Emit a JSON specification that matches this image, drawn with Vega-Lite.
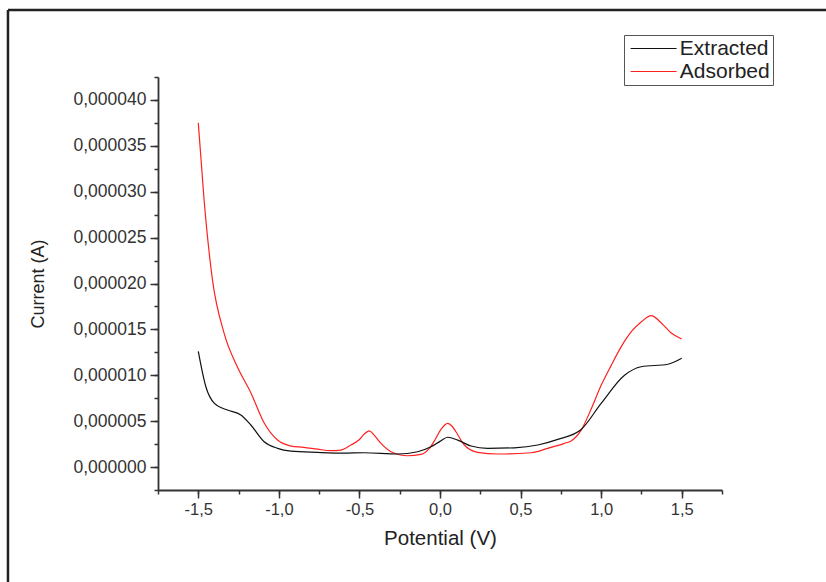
{
  "$schema": "https://vega.github.io/schema/vega-lite/v6.json",
  "autosize": "none",
  "width": 564,
  "height": 413,
  "padding": {"left": 158, "top": 77, "right": 104, "bottom": 92},
  "background": "white",
  "config": {
    "view": {"stroke": null},
    "font": "Liberation Sans"
  },
  "resolve": {"axis": {"x": "independent", "y": "independent"}},
  "datasets": {
    "curves": [
      {"V": -1.5, "I": 37.5e-6, "s": "Adsorbed"},
      {"V": -1.464, "I": 29.1e-6, "s": "Adsorbed"},
      {"V": -1.412, "I": 20.4e-6, "s": "Adsorbed"},
      {"V": -1.34, "I": 14.6e-6, "s": "Adsorbed"},
      {"V": -1.257, "I": 10.9e-6, "s": "Adsorbed"},
      {"V": -1.174, "I": 8.1e-6, "s": "Adsorbed"},
      {"V": -1.091, "I": 4.8e-6, "s": "Adsorbed"},
      {"V": -1.008, "I": 2.94e-6, "s": "Adsorbed"},
      {"V": -0.925, "I": 2.29e-6, "s": "Adsorbed"},
      {"V": -0.845, "I": 2.15e-6, "s": "Adsorbed"},
      {"V": -0.76, "I": 1.95e-6, "s": "Adsorbed"},
      {"V": -0.677, "I": 1.78e-6, "s": "Adsorbed"},
      {"V": -0.615, "I": 1.85e-6, "s": "Adsorbed"},
      {"V": -0.553, "I": 2.4e-6, "s": "Adsorbed"},
      {"V": -0.5, "I": 3.0e-6, "s": "Adsorbed"},
      {"V": -0.47, "I": 3.6e-6, "s": "Adsorbed"},
      {"V": -0.439, "I": 3.95e-6, "s": "Adsorbed"},
      {"V": -0.41, "I": 3.5e-6, "s": "Adsorbed"},
      {"V": -0.366, "I": 2.58e-6, "s": "Adsorbed"},
      {"V": -0.304, "I": 1.67e-6, "s": "Adsorbed"},
      {"V": -0.2, "I": 1.23e-6, "s": "Adsorbed"},
      {"V": -0.118, "I": 1.38e-6, "s": "Adsorbed"},
      {"V": -0.066, "I": 2.04e-6, "s": "Adsorbed"},
      {"V": -0.03, "I": 3.0e-6, "s": "Adsorbed"},
      {"V": 0.006, "I": 4.1e-6, "s": "Adsorbed"},
      {"V": 0.048, "I": 4.75e-6, "s": "Adsorbed"},
      {"V": 0.075, "I": 4.45e-6, "s": "Adsorbed"},
      {"V": 0.099, "I": 3.85e-6, "s": "Adsorbed"},
      {"V": 0.151, "I": 2.4e-6, "s": "Adsorbed"},
      {"V": 0.234, "I": 1.6e-6, "s": "Adsorbed"},
      {"V": 0.358, "I": 1.42e-6, "s": "Adsorbed"},
      {"V": 0.565, "I": 1.56e-6, "s": "Adsorbed"},
      {"V": 0.669, "I": 2.04e-6, "s": "Adsorbed"},
      {"V": 0.772, "I": 2.58e-6, "s": "Adsorbed"},
      {"V": 0.814, "I": 2.85e-6, "s": "Adsorbed"},
      {"V": 0.876, "I": 4.03e-6, "s": "Adsorbed"},
      {"V": 0.94, "I": 6.4e-6, "s": "Adsorbed"},
      {"V": 1.0, "I": 8.9e-6, "s": "Adsorbed"},
      {"V": 1.06, "I": 11.0e-6, "s": "Adsorbed"},
      {"V": 1.124, "I": 13.1e-6, "s": "Adsorbed"},
      {"V": 1.19, "I": 14.8e-6, "s": "Adsorbed"},
      {"V": 1.248, "I": 15.8e-6, "s": "Adsorbed"},
      {"V": 1.311, "I": 16.5e-6, "s": "Adsorbed"},
      {"V": 1.373, "I": 15.7e-6, "s": "Adsorbed"},
      {"V": 1.435, "I": 14.6e-6, "s": "Adsorbed"},
      {"V": 1.5, "I": 13.95e-6, "s": "Adsorbed"},
      {"V": -1.5, "I": 12.6e-6, "s": "Extracted"},
      {"V": -1.453, "I": 8.75e-6, "s": "Extracted"},
      {"V": -1.4, "I": 6.94e-6, "s": "Extracted"},
      {"V": -1.319, "I": 6.21e-6, "s": "Extracted"},
      {"V": -1.236, "I": 5.67e-6, "s": "Extracted"},
      {"V": -1.174, "I": 4.58e-6, "s": "Extracted"},
      {"V": -1.091, "I": 2.76e-6, "s": "Extracted"},
      {"V": -1.008, "I": 2.04e-6, "s": "Extracted"},
      {"V": -0.925, "I": 1.74e-6, "s": "Extracted"},
      {"V": -0.76, "I": 1.6e-6, "s": "Extracted"},
      {"V": -0.6, "I": 1.52e-6, "s": "Extracted"},
      {"V": -0.47, "I": 1.56e-6, "s": "Extracted"},
      {"V": -0.263, "I": 1.42e-6, "s": "Extracted"},
      {"V": -0.139, "I": 1.67e-6, "s": "Extracted"},
      {"V": -0.056, "I": 2.21e-6, "s": "Extracted"},
      {"V": 0.0, "I": 2.8e-6, "s": "Extracted"},
      {"V": 0.048, "I": 3.25e-6, "s": "Extracted"},
      {"V": 0.11, "I": 2.94e-6, "s": "Extracted"},
      {"V": 0.193, "I": 2.29e-6, "s": "Extracted"},
      {"V": 0.296, "I": 2.04e-6, "s": "Extracted"},
      {"V": 0.461, "I": 2.1e-6, "s": "Extracted"},
      {"V": 0.607, "I": 2.4e-6, "s": "Extracted"},
      {"V": 0.731, "I": 3.01e-6, "s": "Extracted"},
      {"V": 0.876, "I": 4.1e-6, "s": "Extracted"},
      {"V": 1.0, "I": 6.94e-6, "s": "Extracted"},
      {"V": 1.145, "I": 10.0e-6, "s": "Extracted"},
      {"V": 1.248, "I": 10.93e-6, "s": "Extracted"},
      {"V": 1.414, "I": 11.2e-6, "s": "Extracted"},
      {"V": 1.5, "I": 11.85e-6, "s": "Extracted"}
    ]
  },
  "layer": [
    {
      "data": {"values": [{}]},
      "mark": {"type": "rule", "color": "#222", "strokeWidth": 2.5, "clip": false},
      "encoding": {
        "x": {
          "datum": -2.681, "type": "quantitative",
          "scale": {"domain": [-1.75, 1.75], "nice": false, "zero": false},
          "axis": {
            "orient": "bottom", "title": null, "labels": false, "domain": false, "grid": false,
            "values": [-1.75, -1.5, -1.25, -1.0, -0.75, -0.5, -0.25, 0, 0.25, 0.5, 0.75, 1.0, 1.25, 1.5, 1.75],
            "tickSize": 4, "tickColor": "#333", "tickWidth": 1.5
          }
        },
        "x2": {"datum": 3.2},
        "y": {
          "datum": 4.98e-5, "type": "quantitative",
          "scale": {"domain": [-2.5e-6, 42.5e-6], "nice": false, "zero": false},
          "axis": {
            "orient": "left", "title": null, "labels": false, "domain": false, "grid": false,
            "values": [-2.5e-6, 0, 2.5e-6, 5e-6, 7.5e-6, 10e-6, 12.5e-6, 15e-6, 17.5e-6, 20e-6, 22.5e-6, 25e-6, 27.5e-6, 30e-6, 32.5e-6, 35e-6, 37.5e-6, 40e-6, 42.5e-6],
            "tickSize": 4, "tickColor": "#333", "tickWidth": 1.5
          }
        }
      }
    },
    {
      "data": {"values": [{}]},
      "mark": {"type": "rule", "color": "#222", "strokeWidth": 2.5, "clip": false},
      "encoding": {
        "x": {"datum": -2.681, "type": "quantitative", "axis": null},
        "y": {"datum": 4.98e-5, "type": "quantitative", "axis": null},
        "y2": {"datum": -1.6e-5}
      }
    },
    {
      "data": {"name": "curves"},
      "mark": {"type": "line", "interpolate": "monotone", "strokeWidth": 1.2},
      "encoding": {
        "x": {
          "field": "V", "type": "quantitative",
          "axis": {
            "orient": "bottom",
            "title": "Potential (V)",
            "values": [-1.5, -1.0, -0.5, 0, 0.5, 1.0, 1.5],
            "labelExpr": "(datum.value < -0.01 ? '-' : '') + replace(format(abs(datum.value), '.1f'), '.', ',')",
            "tickSize": 8,
            "grid": false,
            "labelOverlap": false,
            "labelFlush": false,
            "domainColor": "#333", "domainWidth": 1.8,
            "tickColor": "#333", "tickWidth": 1.5,
            "labelFont": "Liberation Sans", "labelFontSize": 16.5, "labelColor": "#333", "labelPadding": 3,
            "titleFont": "Liberation Sans", "titleFontSize": 20.5, "titleFontWeight": "normal", "titleColor": "#222", "titlePadding": 11
          }
        },
        "y": {
          "field": "I", "type": "quantitative",
          "axis": {
            "orient": "left",
            "title": "Current (A)",
            "values": [0, 5e-6, 10e-6, 15e-6, 20e-6, 25e-6, 30e-6, 35e-6, 40e-6],
            "labelExpr": "replace(format(datum.value, '.6f'), '.', ',')",
            "tickSize": 8,
            "grid": false,
            "labelOverlap": false,
            "labelFlush": false,
            "domainColor": "#333", "domainWidth": 1.8,
            "tickColor": "#333", "tickWidth": 1.5,
            "labelFont": "Liberation Sans", "labelFontSize": 17.5, "labelColor": "#333", "labelPadding": 4,
            "titleFont": "Liberation Sans", "titleFontSize": 18, "titleFontWeight": "normal", "titleColor": "#222", "titlePadding": 26
          }
        },
        "color": {
          "field": "s", "type": "nominal",
          "scale": {"domain": ["Extracted", "Adsorbed"], "range": ["#111111", "#ff2020"]},
          "legend": {
            "title": null,
            "orient": "none",
            "legendX": 466,
            "legendY": -42,
            "strokeColor": "#555",
            "padding": 3,
            "symbolType": "M-1.5,0H8.5",
            "symbolSize": 84.6,
            "symbolStrokeWidth": 1.2,
            "labelOffset": 31.8,
            "labelFont": "Liberation Sans",
            "labelFontSize": 21,
            "labelColor": "#222",
            "rowPadding": 1
          }
        }
      }
    }
  ]
}
